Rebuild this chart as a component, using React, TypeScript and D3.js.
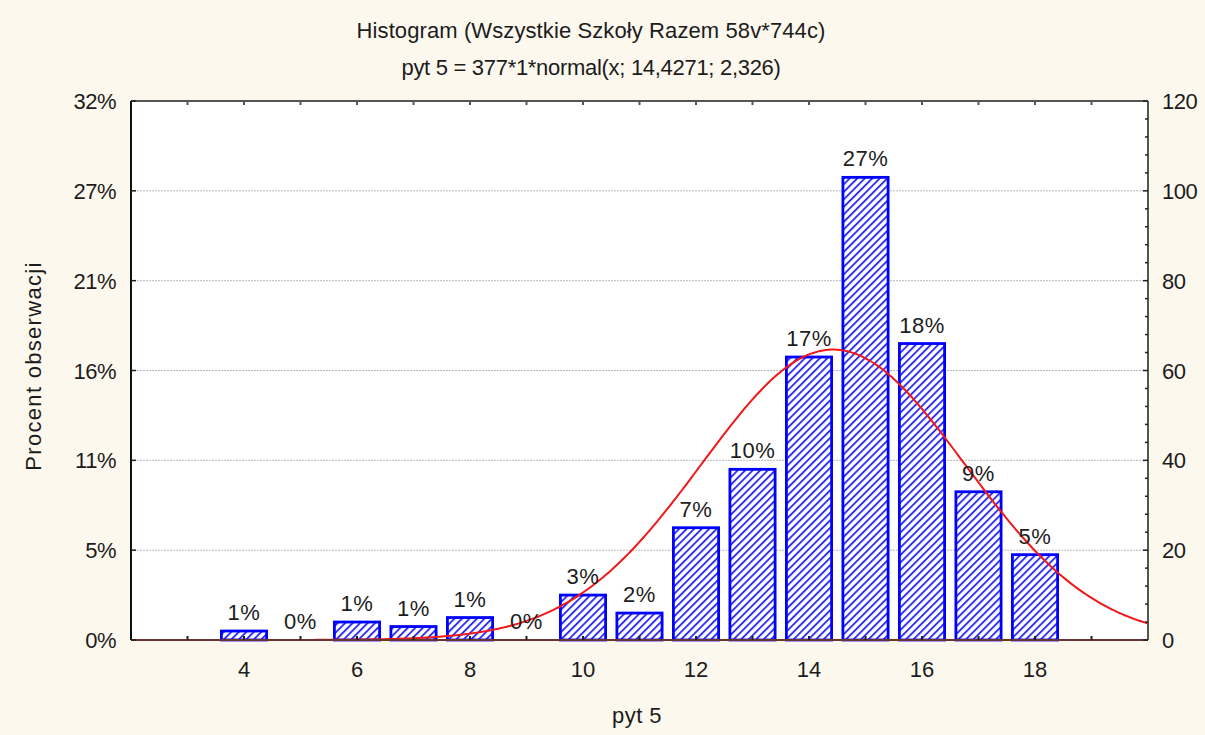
import React from 'react';
import * as d3 from 'd3';

// histogram of pyt 5 (counts per score)
const scores = [4, 5, 6, 7, 8, 9, 10, 11, 12, 13, 14, 15, 16, 17, 18];
const counts = [2, 0, 4, 3, 5, 0, 10, 6, 25, 38, 63, 103, 66, 33, 19];
const xTicks = [4, 6, 8, 10, 12, 14, 16, 18];
const countTicks = [0, 20, 40, 60, 80, 100, 120];
const percentTickLabels = ['0%', '5%', '11%', '16%', '21%', '27%', '32%'];

// fitted normal: 377*1*normal(x; 14,4271; 2,326)
const total = 377;
const fitMean = 14.4271;
const fitSd = 2.326;

const W = 1205;
const H = 735;
const margin = { left: 131, right: 1148, top: 101, bottom: 640 };
const font = '"Liberation Sans", Arial, sans-serif';
const textColor = '#1c1c1c';
const fs = 22;

export default function App() {
  const x = d3.scaleLinear().domain([2, 20]).range([margin.left, margin.right]);
  const y = d3.scaleLinear().domain([0, 120]).range([margin.bottom, margin.top]);
  const barW = (x(1) - x(0)) * 0.8;

  const curvePts = d3.range(2, 20.001, 0.05).map(v => [
    v,
    total * Math.exp(-0.5 * ((v - fitMean) / fitSd) ** 2) / (fitSd * Math.sqrt(2 * Math.PI)),
  ]);
  const line = d3.line<number[]>()
    .x(d => x(d[0]))
    .y(d => y(d[1]))
    .curve(d3.curveBasis);

  const integerTicks = d3.range(3, 20);
  const minorRight = d3.range(4, 120, 4).filter(v => v % 20 !== 0);

  return (
    <svg width={W} height={H} style={{ position: 'absolute', left: 0, top: 0, display: 'block' }}>
      <defs>
        <pattern id="hatch" patternUnits="userSpaceOnUse" width={5.3} height={5.3} patternTransform="rotate(45)">
          <rect width={5.3} height={5.3} fill="#ffffff" />
          <rect x={0} y={0} width={1.9} height={5.3} fill="#3030f2" />
        </pattern>
      </defs>
      <rect x={0} y={0} width={W} height={H} fill="#fdf8ee" />
      <rect x={margin.left} y={margin.top} width={margin.right - margin.left} height={margin.bottom - margin.top} fill="#ffffff" />

      {/* titles */}
      <text x={591} y={38} textAnchor="middle" fontFamily={font} fontSize={fs} letterSpacing={0.1} fill={textColor}>
        Histogram (Wszystkie Szkoły  Razem 58v*744c)
      </text>
      <text x={591} y={75} textAnchor="middle" fontFamily={font} fontSize={fs} letterSpacing={-0.3} fill={textColor}>
        pyt 5 = 377*1*normal(x; 14,4271; 2,326)
      </text>

      {/* grid */}
      {countTicks.slice(1, -1).map(v => (
        <line key={v} x1={margin.left} x2={margin.right} y1={y(v)} y2={y(v)} stroke="#b8b8b8" strokeWidth={1} strokeDasharray="2,1" />
      ))}

      {/* bars */}
      {scores.map((s, i) => counts[i] > 0 && (
        <rect key={s} x={x(s) - barW / 2} y={y(counts[i])} width={barW} height={y(0) - y(counts[i])}
          fill="url(#hatch)" stroke="#0000ff" strokeWidth={2.8} />
      ))}

      {/* fitted curve */}
      <path d={line(curvePts) || ''} fill="none" stroke="#f01818" strokeWidth={2} />

      {/* bar labels */}
      {scores.map((s, i) => (
        <text key={s} x={x(s)} y={y(counts[i]) - 11} textAnchor="middle" fontFamily={font} fontSize={fs} letterSpacing={0.5} fill={textColor}>
          {Math.round(counts[i] / total * 100)}%
        </text>
      ))}

      {/* frame */}
      <line x1={margin.left} x2={margin.right} y1={margin.top} y2={margin.top} stroke="#555" strokeWidth={2} />
      <line x1={margin.right} x2={margin.right} y1={margin.top} y2={margin.bottom} stroke="#555" strokeWidth={2} />
      <line x1={margin.left} x2={margin.left} y1={margin.top} y2={margin.bottom} stroke="#111" strokeWidth={2} />
      <line x1={margin.left} x2={margin.right} y1={margin.bottom} y2={margin.bottom} stroke="#6a3434" strokeWidth={2} />

      {/* ticks */}
      {integerTicks.map(v => (
        <g key={v}>
          <line x1={x(v)} x2={x(v)} y1={margin.bottom} y2={margin.bottom - 4} stroke="#222" strokeWidth={2} />
          <line x1={x(v)} x2={x(v)} y1={margin.top} y2={margin.top + 4} stroke="#555" strokeWidth={2} />
        </g>
      ))}
      {countTicks.map(v => (
        <g key={v}>
          <line x1={margin.left} x2={margin.left + 5} y1={y(v)} y2={y(v)} stroke="#222" strokeWidth={1.5} />
          <line x1={margin.right} x2={margin.right - 5} y1={y(v)} y2={y(v)} stroke="#222" strokeWidth={1.5} />
        </g>
      ))}
      {minorRight.map(v => (
        <line key={v} x1={margin.right} x2={margin.right - 3} y1={y(v)} y2={y(v)} stroke="#222" strokeWidth={1.5} />
      ))}

      {/* tick labels */}
      {xTicks.map(v => (
        <text key={v} x={x(v)} y={677} textAnchor="middle" fontFamily={font} fontSize={fs} fill={textColor}>{v}</text>
      ))}
      {countTicks.map((v, i) => (
        <g key={v}>
          <text x={116} y={y(v) + 8} textAnchor="end" fontFamily={font} fontSize={fs} letterSpacing={-0.5} fill={textColor}>{percentTickLabels[i]}</text>
          <text x={1162} y={y(v) + 8} textAnchor="start" fontFamily={font} fontSize={fs} letterSpacing={-0.5} fill={textColor}>{v}</text>
        </g>
      ))}

      {/* axis titles */}
      <text x={637} y={723} textAnchor="middle" fontFamily={font} fontSize={fs} letterSpacing={0.5} fill={textColor}>pyt 5</text>
      <text transform={`translate(41,${366}) rotate(-90)`} textAnchor="middle" fontFamily={font} fontSize={fs} letterSpacing={1.3} fill={textColor}>
        Procent obserwacji
      </text>
    </svg>
  );
}
